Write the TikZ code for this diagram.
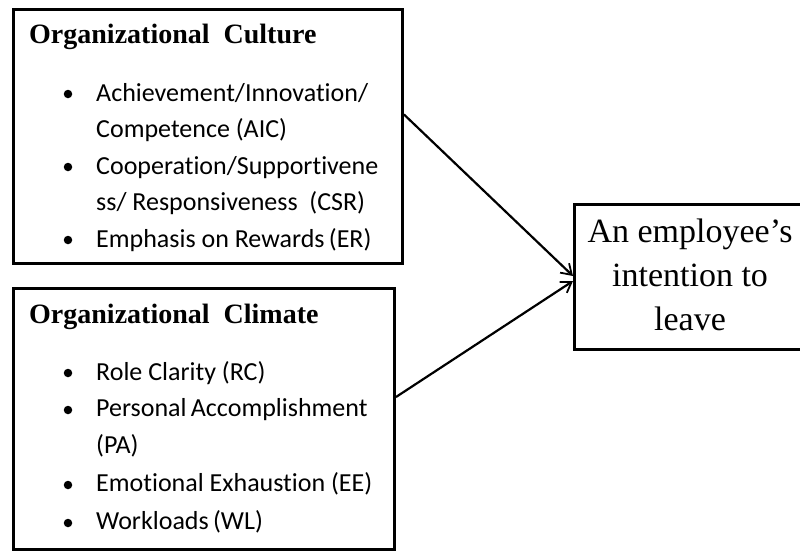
\documentclass[tikz,border=0pt]{standalone}
\usepackage{fontspec}
\setmainfont{Liberation Serif}
\newfontfamily\bodyfont[Ligatures=NoCommon]{Carlito}
\usetikzlibrary{arrows.meta}

\tikzset{
	factor/.style={draw,line width=3pt,rectangle,anchor=north west,inner sep=0pt},
	head/.style={anchor=base west,inner sep=0pt,font=\fontsize{28}{32}\selectfont\bfseries},
	item/.style={anchor=base west,inner sep=0pt,font=\bodyfont\fontsize{26}{30}\selectfont},
	outcome/.style={anchor=base,inner sep=0pt,font=\fontsize{34}{40}\selectfont},
	dot/.style={circle,fill,inner sep=0pt,minimum size=8.5pt},
	link/.style={line width=2.2pt,-{Straight Barb[length=10pt,width=13pt,line width=1.8pt]}}
}

\begin{document}
\begin{tikzpicture}[x=1pt,y=-1pt]
	\useasboundingbox (0,0) rectangle (800,552);
	% boxes
	\node[factor,minimum width=389pt,minimum height=254pt] (cult) at (12,8) {};
	\node[factor,minimum width=381pt,minimum height=261pt] (clim) at (12,287) {};
	\node[factor,minimum width=236pt,minimum height=145pt] (leave) at (573,203) {};
	% culture
	\node[head] (culthead) at (29,43) {Organizational\ \ Culture};
	\node[dot] (cd1) at (68,94) {};
	\node[item] (c1) at (96,101) {Achievement/Innovation/};
	\node[item] (c2) at (96,137.5) {Competence (AIC)};
	\node[dot] (cd2) at (68,167) {};
	\node[item] (c3) at (96,174) {Cooperation/Supportivene};
	\node[item] (c4) at (96,210.5) {ss/ Responsiveness\ \ (CSR)};
	\node[dot] (cd3) at (68,240) {};
	\node[item] (c5) at (96,247) {Emphasis on Rewards\,(ER)};
	% climate
	\node[head] (climhead) at (29,323) {Organizational\ \ Climate};
	\node[dot] (md1) at (68,373) {};
	\node[item] (m1) at (96,380) {Role Clarity (RC)};
	\node[dot] (md2) at (68,410) {};
	\node[item] (m2) at (96,416) {Personal\,Accomplishment};
	\node[item] (m3) at (96,453) {(PA)};
	\node[dot] (md3) at (68,485) {};
	\node[item] (m4) at (96,491) {Emotional Exhaustion (EE)};
	\node[dot] (md4) at (68,523) {};
	\node[item] (m5) at (96,529) {Workloads\,(WL)};
	% outcome
	\node[outcome] (o1) at (690,242) {An employee’s};
	\node[outcome] (o2) at (690,286) {intention to};
	\node[outcome] (o3) at (690,330) {leave};
	% arrows
	\draw[link] ([yshift=22pt]cult.east) -- ([yshift=1pt]leave.west);
	\draw[link] ([yshift=22pt]clim.east) -- ([yshift=-4pt]leave.west);
\end{tikzpicture}
\end{document}
